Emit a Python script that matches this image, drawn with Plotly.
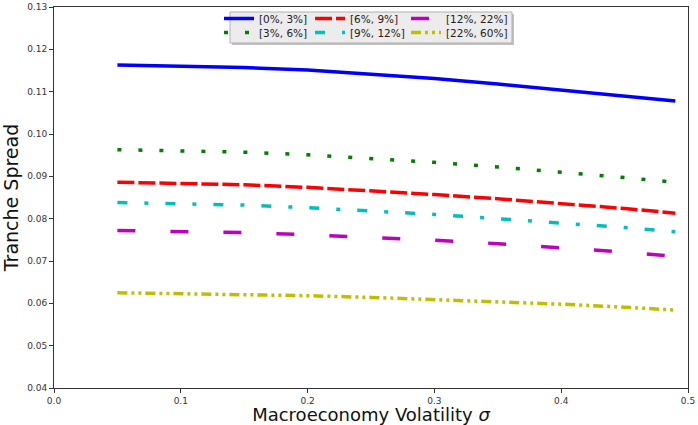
import plotly.graph_objects as go

sigma = [0.05, 0.10, 0.15, 0.20, 0.25, 0.30, 0.35, 0.40, 0.45, 0.49]
t_0_3 = [0.1163, 0.1161, 0.1157, 0.1151, 0.1142, 0.1131, 0.1118, 0.1104, 0.1089, 0.1078]
t_3_6 = [0.0963, 0.0961, 0.0957, 0.0951, 0.0943, 0.0933, 0.0922, 0.0910, 0.0897, 0.0886]
t_6_9 = [0.0886, 0.0884, 0.0880, 0.0874, 0.0866, 0.0857, 0.0847, 0.0836, 0.0824, 0.0813]
t_9_12 = [0.0838, 0.0836, 0.0832, 0.0826, 0.0819, 0.0810, 0.0800, 0.0790, 0.0779, 0.0769]
t_12_22 = [0.0772, 0.0770, 0.0767, 0.0762, 0.0756, 0.0749, 0.0741, 0.0732, 0.0721, 0.0711]
t_22_60 = [0.0625, 0.0623, 0.0621, 0.0618, 0.0614, 0.0609, 0.0604, 0.0598, 0.0591, 0.0584]

names = ["[0%, 3%]", "[3%, 6%]", "[6%, 9%]", "[9%, 12%]", "[12%, 22%]", "[22%, 60%]"]
series = [t_0_3, t_3_6, t_6_9, t_9_12, t_12_22, t_22_60]
colors = ["#0000ff", "#007f00", "#ff0000", "#00bfbf", "#bf00bf", "#bfbf00"]
dashes = ["solid", "4px,17px", "17px,4px", "10px,17px,4px,17px", "18px,35px",
          "10px,4px,3px,4px,3px,4px"]

W, H = 698, 425
L, R, T, B = 54, 10, 7, 37
pw, ph = W - L - R, H - T - B

def px(xp):
    return (xp - L) / pw

def py(yp):
    return 1 - (yp - T) / ph

# legend grid (column-major, 3 columns x 2 rows): one small legend per entry
col_x = [219, 310, 406]
row_y = [18.5, 32.5]
legend_ids = ["legend", "legend2", "legend3", "legend4", "legend5", "legend6"]

fig = go.Figure()
for n, s, c, d, lg in zip(names, series, colors, dashes, legend_ids):
    fig.add_trace(go.Scatter(x=sigma, y=s, mode="lines", name=n,
                             line=dict(color=c, width=3.5, dash=d), legend=lg))

font = "DejaVu Sans, Arial, sans-serif"
leg_layout = {}
for i, lg in enumerate(legend_ids):
    leg_layout[lg] = dict(bgcolor="rgba(0,0,0,0)", borderwidth=0,
                          font=dict(size=10.5, color="#222", family=font),
                          orientation="h", xanchor="left", yanchor="middle", itemwidth=30,
                          x=px(col_x[i // 2]), y=py(row_y[i % 2]))

fig.update_layout(
    width=W, height=H,
    margin=dict(l=L, r=R, t=T, b=B, autoexpand=False),
    paper_bgcolor="white", plot_bgcolor="white",
    font=dict(family=font),
    showlegend=True,
    **leg_layout,
    xaxis=dict(range=[0, 0.5], tickvals=[0, 0.1, 0.2, 0.3, 0.4, 0.5],
               ticktext=["0.0", "0.1", "0.2", "0.3", "0.4", "0.5"],
               ticks="outside", ticklen=4, tickcolor="#333", showgrid=False, zeroline=False,
               showline=True, linecolor="#333", linewidth=1, mirror=True, automargin=False,
               tickfont=dict(size=9, color="#333"),
               title=dict(text="Macroeconomy Volatility <i>σ</i>", font=dict(size=18, color="#111"), standoff=7)),
    yaxis=dict(range=[0.04, 0.13], tickvals=[0.04, 0.05, 0.06, 0.07, 0.08, 0.09, 0.10, 0.11, 0.12, 0.13],
               ticktext=["0.04", "0.05", "0.06", "0.07", "0.08", "0.09", "0.10", "0.11", "0.12", "0.13"],
               ticks="outside", ticklen=4, tickcolor="#333", showgrid=False, zeroline=False,
               showline=True, linecolor="#333", linewidth=1, mirror=True, automargin=False,
               tickfont=dict(size=9, color="#333"),
               title=dict(text="Tranche Spread", font=dict(size=19, color="#111"), standoff=7)),
    shapes=[
        dict(type="rect", xref="paper", yref="paper", x0=px(232), x1=px(514), y0=py(45), y1=py(14),
             fillcolor="#9a9a9a", line=dict(width=0), opacity=0.6, layer="above"),
        dict(type="rect", xref="paper", yref="paper", x0=px(230), x1=px(512), y0=py(43), y1=py(12),
             fillcolor="#ececec", line=dict(color="#b0b0b0", width=1), layer="above"),
    ],
)

fig.write_html("out.html", config={"displayModeBar": False},
               post_script="document.body.style.margin='0';")
